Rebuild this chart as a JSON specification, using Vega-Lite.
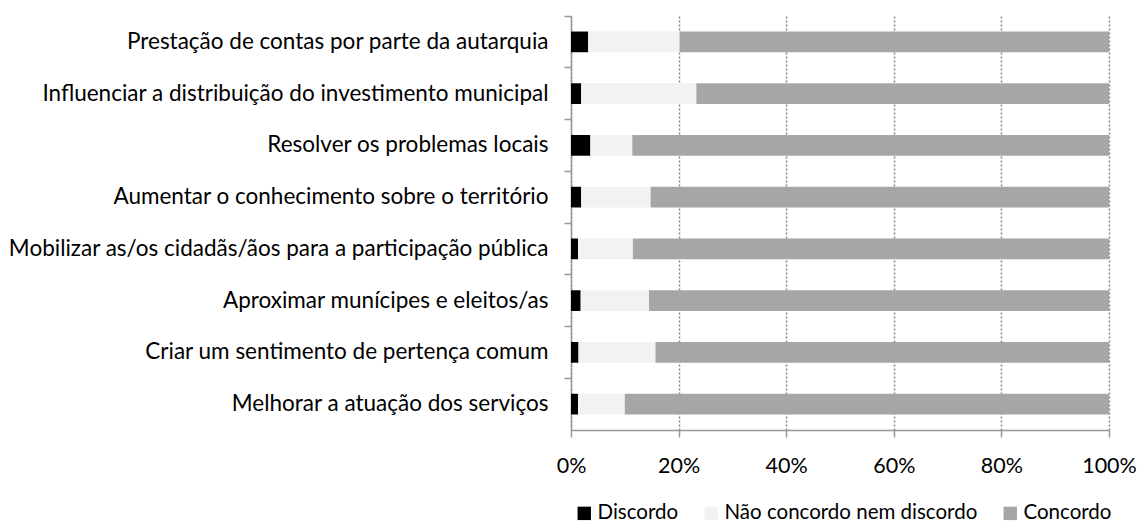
{
  "$schema": "https://vega.github.io/schema/vega-lite/v6.json",
  "width": 538,
  "height": 414,
  "autosize": {"type": "none"},
  "padding": {"left": 571, "top": 16, "right": 30, "bottom": 99},
  "background": "#ffffff",
  "config": {
    "view": {"stroke": null},
    "font": "Lato"
  },
  "data": {
    "values": [
      {"item": "Prestação de contas por parte da autarquia", "resp": "Discordo", "o": 1, "v": 3.2},
      {"item": "Prestação de contas por parte da autarquia", "resp": "Não concordo nem discordo", "o": 2, "v": 17.0},
      {"item": "Prestação de contas por parte da autarquia", "resp": "Concordo", "o": 3, "v": 79.8},
      {"item": "Influenciar a distribuição do investimento municipal", "resp": "Discordo", "o": 1, "v": 1.9},
      {"item": "Influenciar a distribuição do investimento municipal", "resp": "Não concordo nem discordo", "o": 2, "v": 21.4},
      {"item": "Influenciar a distribuição do investimento municipal", "resp": "Concordo", "o": 3, "v": 76.7},
      {"item": "Resolver os problemas locais", "resp": "Discordo", "o": 1, "v": 3.6},
      {"item": "Resolver os problemas locais", "resp": "Não concordo nem discordo", "o": 2, "v": 7.8},
      {"item": "Resolver os problemas locais", "resp": "Concordo", "o": 3, "v": 88.6},
      {"item": "Aumentar o conhecimento sobre o território", "resp": "Discordo", "o": 1, "v": 1.9},
      {"item": "Aumentar o conhecimento sobre o território", "resp": "Não concordo nem discordo", "o": 2, "v": 12.9},
      {"item": "Aumentar o conhecimento sobre o território", "resp": "Concordo", "o": 3, "v": 85.2},
      {"item": "Mobilizar as/os cidadãs/ãos para a participação pública", "resp": "Discordo", "o": 1, "v": 1.3},
      {"item": "Mobilizar as/os cidadãs/ãos para a participação pública", "resp": "Não concordo nem discordo", "o": 2, "v": 10.2},
      {"item": "Mobilizar as/os cidadãs/ãos para a participação pública", "resp": "Concordo", "o": 3, "v": 88.5},
      {"item": "Aproximar munícipes e eleitos/as", "resp": "Discordo", "o": 1, "v": 1.8},
      {"item": "Aproximar munícipes e eleitos/as", "resp": "Não concordo nem discordo", "o": 2, "v": 12.7},
      {"item": "Aproximar munícipes e eleitos/as", "resp": "Concordo", "o": 3, "v": 85.5},
      {"item": "Criar um sentimento de pertença comum", "resp": "Discordo", "o": 1, "v": 1.4},
      {"item": "Criar um sentimento de pertença comum", "resp": "Não concordo nem discordo", "o": 2, "v": 14.3},
      {"item": "Criar um sentimento de pertença comum", "resp": "Concordo", "o": 3, "v": 84.3},
      {"item": "Melhorar a atuação dos serviços", "resp": "Discordo", "o": 1, "v": 1.3},
      {"item": "Melhorar a atuação dos serviços", "resp": "Não concordo nem discordo", "o": 2, "v": 8.7},
      {"item": "Melhorar a atuação dos serviços", "resp": "Concordo", "o": 3, "v": 90.0}
    ]
  },
  "mark": {"type": "bar", "height": {"band": 0.4}},
  "encoding": {
    "y": {
      "field": "item",
      "type": "nominal",
      "sort": null,
      "title": null,
      "scale": {"paddingInner": 0, "paddingOuter": 0},
      "axis": {
        "bandPosition": 0,
        "domainColor": "#999999",
        "domainWidth": 1.5,
        "tickColor": "#999999",
        "tickWidth": 1.5,
        "tickSize": 7,
        "labelPadding": 16,
        "labelFontSize": 22.5,
        "labelColor": "#000000",
        "labelFont": "Lato",
        "labelLimit": 600,
        "grid": false
      }
    },
    "x": {
      "field": "v",
      "type": "quantitative",
      "stack": "normalize",
      "title": null,
      "scale": {"domain": [0, 1], "nice": false},
      "axis": {
        "format": ".0%",
        "values": [0, 0.2, 0.4, 0.6, 0.8, 1],
        "domainColor": "#999999",
        "domainWidth": 1.5,
        "tickColor": "#999999",
        "tickWidth": 1.5,
        "tickSize": 7,
        "labelPadding": 18,
        "labelFontSize": 21.5,
        "labelColor": "#000000",
        "labelFont": "Lato",
        "labelFlush": false,
        "grid": true,
        "gridColor": "#888888",
        "gridWidth": 1.5,
        "gridDash": [2, 2]
      }
    },
    "color": {
      "field": "resp",
      "type": "nominal",
      "scale": {
        "domain": ["Discordo", "Não concordo nem discordo", "Concordo"],
        "range": ["#000000", "#f2f2f2", "#a6a6a6"]
      },
      "legend": {
        "title": null,
        "orient": "none",
        "direction": "horizontal",
        "legendX": 3,
        "legendY": 487,
        "symbolType": "square",
        "symbolSize": 180,
        "symbolStrokeWidth": 0,
        "labelFontSize": 20.5,
        "labelFont": "Lato",
        "labelColor": "#000000",
        "labelOffset": 3,
        "columnPadding": 22,
        "labelLimit": 400
      }
    },
    "order": {"field": "o", "type": "quantitative"}
  }
}
